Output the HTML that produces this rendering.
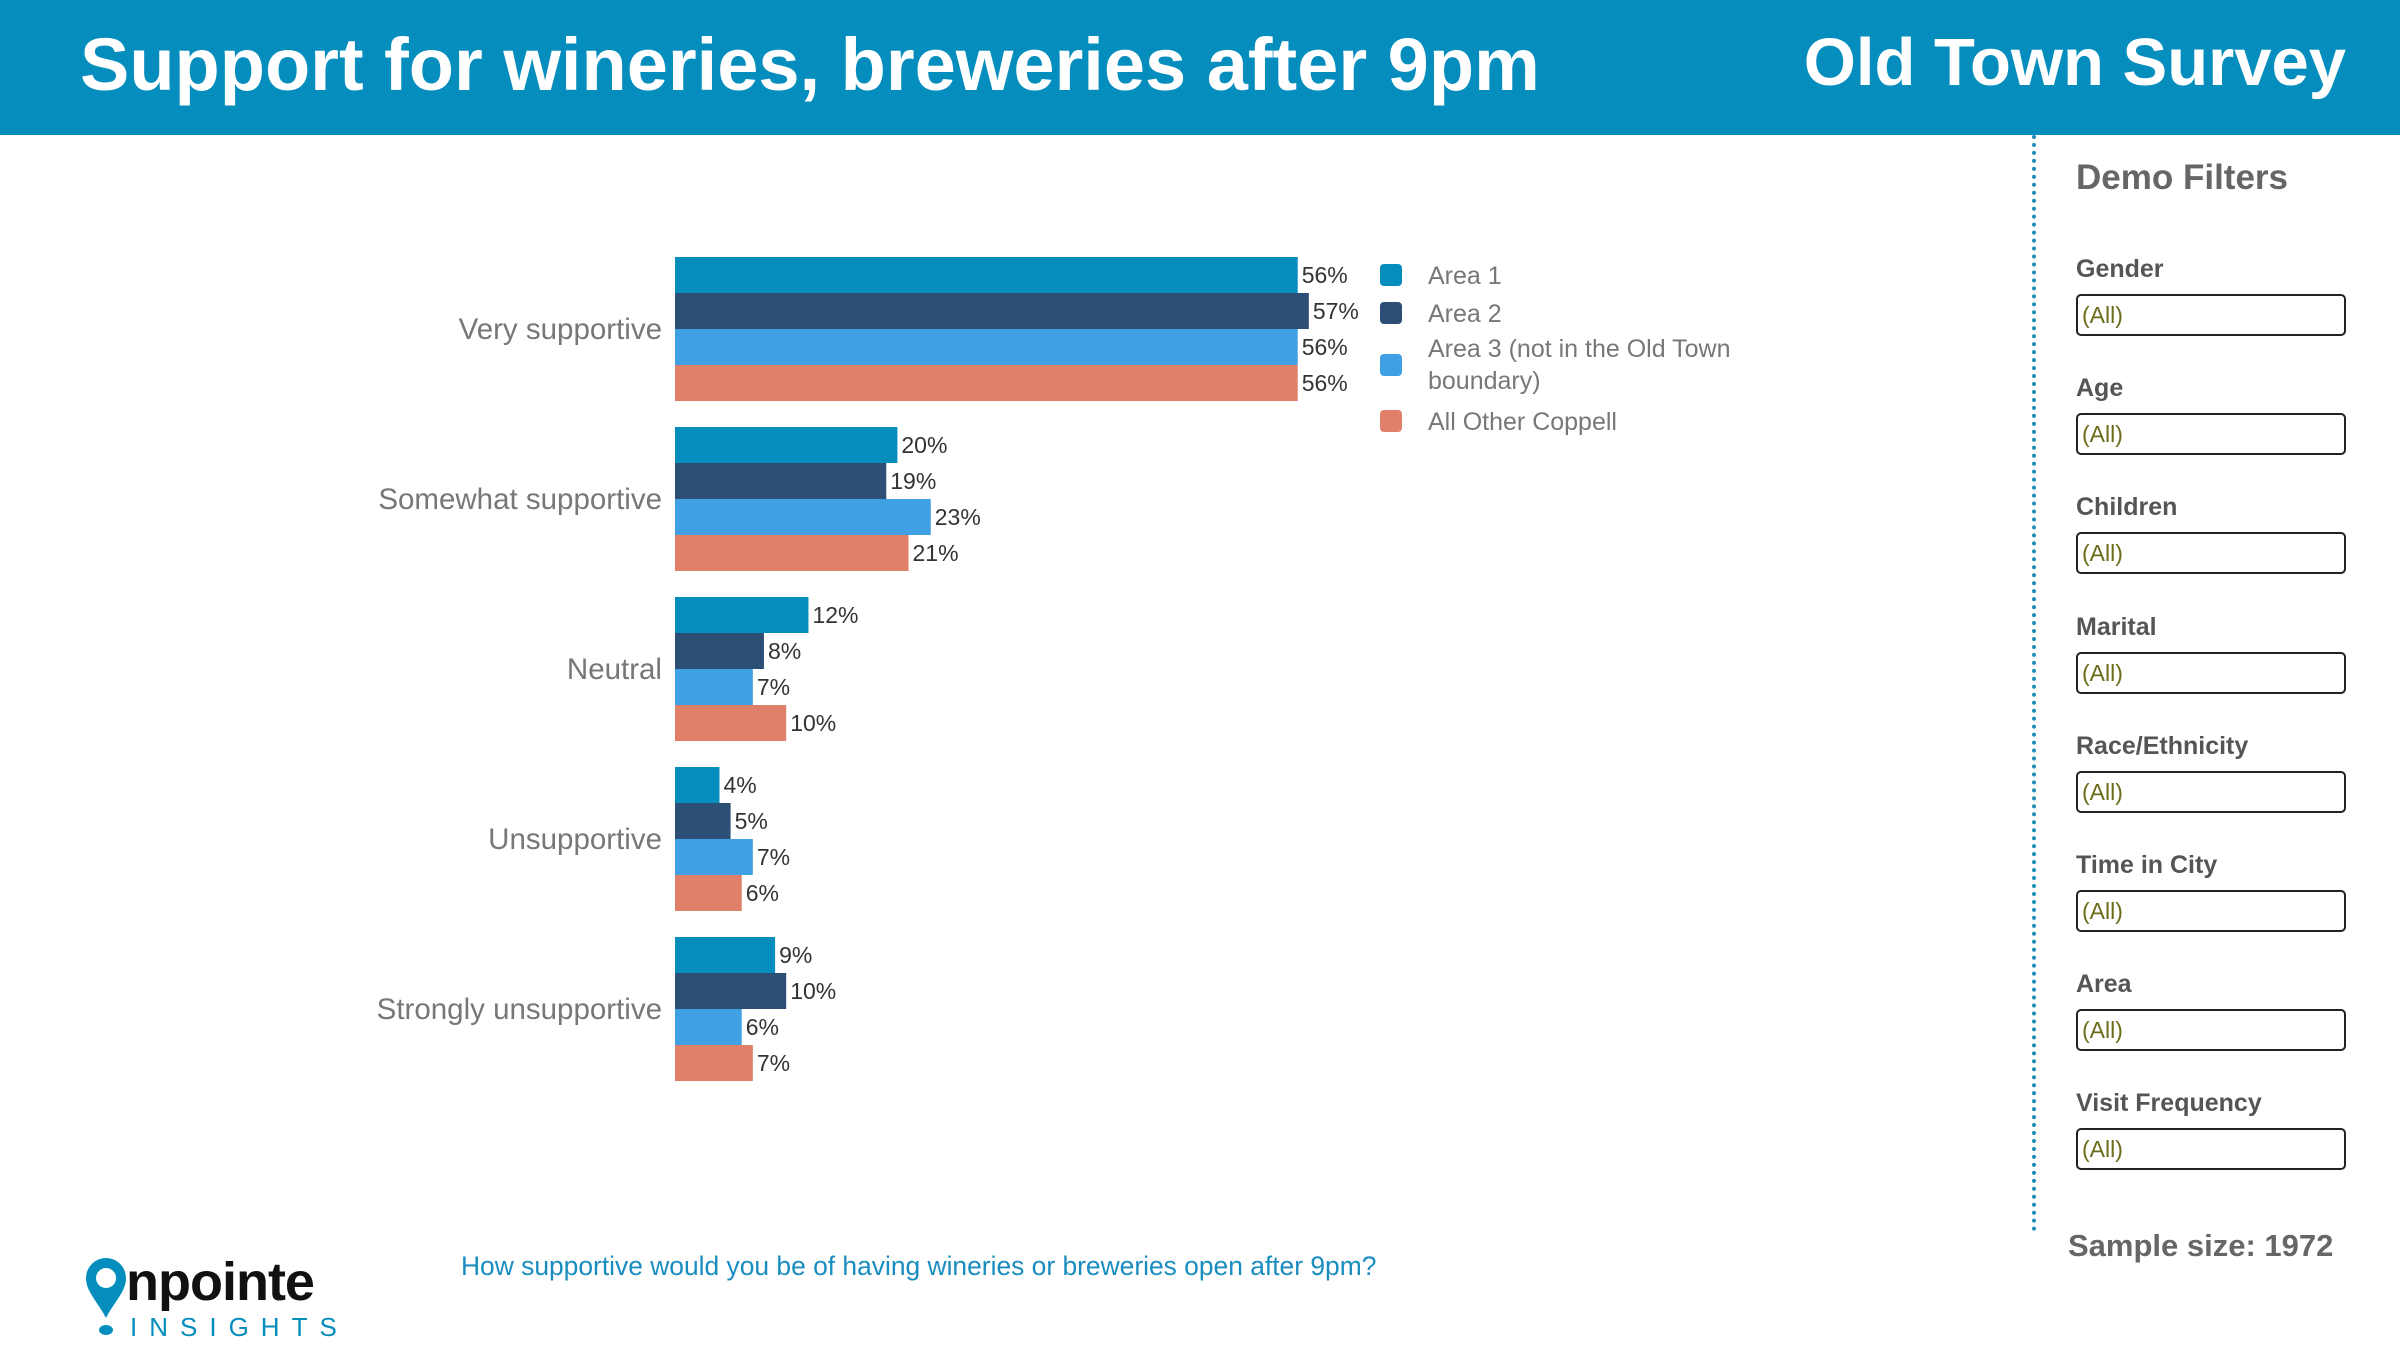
<!DOCTYPE html>
<html><head><meta charset="utf-8">
<style>
body{margin:0;width:2400px;height:1365px;background:#fff;font-family:"Liberation Sans",sans-serif;overflow:hidden;position:relative}
.hdr{position:absolute;left:0;top:0;width:2400px;height:135px;background:#058dbd}
.hdr .t{position:absolute;left:80px;top:22px;color:#fff;font-weight:bold;font-size:74px;white-space:nowrap}
.hdr .r{position:absolute;right:54px;top:24px;color:#fff;font-weight:bold;font-size:67px;white-space:nowrap}
.div{position:absolute;left:2032px;top:135px;height:1097px;border-left:4px dotted #1f8db5}
.demo{position:absolute;left:2076px;top:158px;font-size:35px;font-weight:bold;color:#666}
.fl{position:absolute;left:2076px;font-size:25px;font-weight:bold;color:#555}
.fb{position:absolute;left:2076px;width:262px;height:38px;border:2px solid #222;border-radius:5px;font-size:23px;color:#6b6b1a;line-height:38px;padding-left:4px;box-sizing:content-box}
.ss{position:absolute;left:2068px;top:1228px;font-size:31px;font-weight:bold;color:#666}
.q{position:absolute;left:461px;top:1251px;font-size:26.4px;color:#1a8dc0}
</style></head><body>
<div class="hdr">
<div class="t">Support for wineries, breweries after 9pm</div>
<div class="r">Old Town Survey</div>
</div>
<svg id="chart" width="2000" height="1180" style="position:absolute;left:0;top:135px" font-family="Liberation Sans, sans-serif"></svg>
<div class="div"></div>
<div class="demo">Demo Filters</div>
<div id="filters"></div>
<div class="ss">Sample size: 1972</div>
<div class="q">How supportive would you be of having wineries or breweries open after 9pm?</div>
<svg width="270" height="90" style="position:absolute;left:82px;top:1250px" font-family="Liberation Sans, sans-serif">
<path d="M24 8 a20 20 0 0 1 20 20 c0 14 -12 24 -20 40 c-8 -16 -20 -26 -20 -40 a20 20 0 0 1 20 -20z M24 18 a10 10 0 1 0 0.1 0z" fill="#058dbd" fill-rule="evenodd"/>
<ellipse cx="24" cy="80" rx="7" ry="5" fill="#058dbd"/>
<text x="44" y="50" font-size="54" font-weight="bold" fill="#111" letter-spacing="-1">npointe</text>
<text x="48" y="86" font-size="26" fill="#058dbd" letter-spacing="12">INSIGHTS</text>
</svg>
<script>
const categories=["Very supportive","Somewhat supportive","Neutral","Unsupportive","Strongly unsupportive"];
const seriesNames=["Area 1","Area 2","Area 3 (not in the Old Town boundary)","All Other Coppell"];
const area1=[56,20,12,4,9];
const area2=[57,19,8,5,10];
const area3=[56,23,7,7,6];
const other=[56,21,10,6,7];
const series=[area1,area2,area3,other];
const colors=["#058dbd","#2d4f75","#3fa0e3","#e0806a"];
const NS="http://www.w3.org/2000/svg";
const svg=document.getElementById('chart');
const x0=675,pxPer=11.12,groupTop=122,groupPitch=170,barH=36;
const xs=v=>v*pxPer;
function mk(t,a){const e=document.createElementNS(NS,t);for(const k in a)e.setAttribute(k,a[k]);svg.appendChild(e);return e;}
categories.forEach((c,i)=>{
  const gy=groupTop+i*groupPitch;
  const t=mk('text',{x:662,y:gy+barH*2+10,'text-anchor':'end','font-size':29.5,fill:'#777'});
  t.textContent=c;
  
  
  series.forEach((s,j)=>{
    const y=gy+j*barH;
    const r=mk('rect',{x:x0,y:y,width:xs(s[i]),height:barH,fill:colors[j]});
    
    
    const l=mk('text',{x:x0+xs(s[i])+4,y:y+barH/2+8,'font-size':23,fill:'#333'});
    l.textContent=s[i]+'%';
    
    
  });
});
const legY=[140,178,230,286];
seriesNames.forEach((n,j)=>{
  const y=legY[j];
  const r=mk('rect',{x:1380,y:y-11,width:22,height:22,rx:4,fill:colors[j]});
  
  
  const t=mk('text',{x:1428,y:y+9,'font-size':25,fill:'#777'});
  
  
  if(j===2){t.innerHTML='<tspan x="1428" y="'+(y-8)+'">Area 3 (not in the Old Town</tspan><tspan x="1428" y="'+(y+24)+'">boundary)</tspan>';}
  else t.textContent=n;
});
const filters=["Gender","Age","Children","Marital","Race/Ethnicity","Time in City","Area","Visit Frequency"];
const fc=document.getElementById('filters');
filters.forEach((f,i)=>{
  const top=255+i*119.2;
  const l=document.createElement('div');l.className='fl';l.style.top=top+'px';l.textContent=f;
  
  
  fc.appendChild(l);
  const b=document.createElement('div');b.className='fb';b.style.top=(top+39)+'px';b.textContent='(All)';
  
  
  fc.appendChild(b);
});
</script>
</body></html>
